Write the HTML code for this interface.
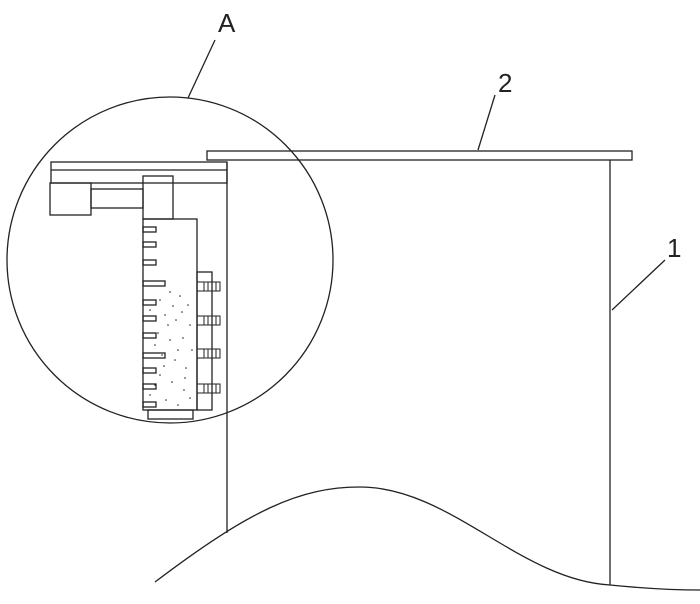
<!DOCTYPE html><html><head><style>body{margin:0;background:#fff}</style></head><body>
<svg width="700" height="599" viewBox="0 0 700 599" xmlns="http://www.w3.org/2000/svg" fill="none" stroke="#222" stroke-width="1.3">
<circle cx="170" cy="260" r="163"/>
<rect x="207" y="151" width="425" height="9"/>
<line x1="610" y1="160" x2="610" y2="585"/>
<line x1="227" y1="162" x2="227" y2="533"/>
<path d="M155,582 C250,510 300,487 360,487 C450,487 520,580 610,585 C640,588 670,590 700,590"/>
<line x1="215" y1="40" x2="188" y2="98"/>
<line x1="495" y1="95" x2="478" y2="150"/>
<line x1="665" y1="260" x2="612" y2="310"/>
<g font-family="Liberation Sans, sans-serif" font-size="26" fill="#222" stroke="none">
<text x="218" y="32">A</text><text x="498" y="92">2</text><text x="667" y="257">1</text></g>
<rect x="51" y="162" width="176" height="21"/>
<line x1="51" y1="170" x2="227" y2="170"/>
<rect x="50" y="183" width="41" height="32"/>
<rect x="91" y="189" width="52" height="19"/>
<rect x="143" y="176" width="30" height="43"/>
<rect x="143" y="219" width="54" height="191"/>
<rect x="148" y="410" width="45" height="9"/>
<rect x="197" y="272" width="15" height="138"/>
<g>
<rect x="143" y="227" width="13" height="5"/><rect x="143" y="242" width="13" height="5"/><rect x="143" y="260" width="13" height="5"/><rect x="143" y="281" width="22" height="5"/><rect x="143" y="300" width="13" height="5"/><rect x="143" y="316" width="13" height="5"/><rect x="143" y="333" width="13" height="5"/><rect x="143" y="353" width="22" height="5"/><rect x="143" y="368" width="13" height="5"/><rect x="143" y="384" width="13" height="5"/><rect x="143" y="402" width="13" height="5"/>
</g>
<g stroke-width="1">
<rect x="197" y="282" width="23" height="9"/><rect x="197" y="316" width="23" height="9"/><rect x="197" y="349" width="23" height="9"/><rect x="197" y="384" width="23" height="9"/>
<path d="M204,282v9M208,282v9M212,282v9M216,282v9M204,316v9M208,316v9M212,316v9M216,316v9M204,349v9M208,349v9M212,349v9M216,349v9M204,384v9M208,384v9M212,384v9M216,384v9"/>
</g>
<g fill="#222" stroke="none">
<circle cx="160" cy="300" r=".8"/><circle cx="170" cy="292" r=".8"/><circle cx="180" cy="296" r=".8"/><circle cx="188" cy="305" r=".8"/><circle cx="165" cy="315" r=".8"/><circle cx="176" cy="320" r=".8"/><circle cx="190" cy="325" r=".8"/><circle cx="158" cy="333" r=".8"/><circle cx="170" cy="340" r=".8"/><circle cx="183" cy="338" r=".8"/><circle cx="192" cy="350" r=".8"/><circle cx="162" cy="355" r=".8"/><circle cx="175" cy="360" r=".8"/><circle cx="186" cy="368" r=".8"/><circle cx="160" cy="375" r=".8"/><circle cx="172" cy="382" r=".8"/><circle cx="184" cy="390" r=".8"/><circle cx="150" cy="395" r=".8"/><circle cx="166" cy="400" r=".8"/><circle cx="190" cy="398" r=".8"/><circle cx="178" cy="405" r=".8"/><circle cx="155" cy="345" r=".8"/><circle cx="182" cy="312" r=".8"/><circle cx="168" cy="325" r=".8"/><circle cx="178" cy="350" r=".8"/><circle cx="155" cy="385" r=".8"/><circle cx="185" cy="378" r=".8"/><circle cx="164" cy="366" r=".8"/><circle cx="173" cy="306" r=".8"/><circle cx="150" cy="310" r=".8"/>
</g>
</svg></body></html>
